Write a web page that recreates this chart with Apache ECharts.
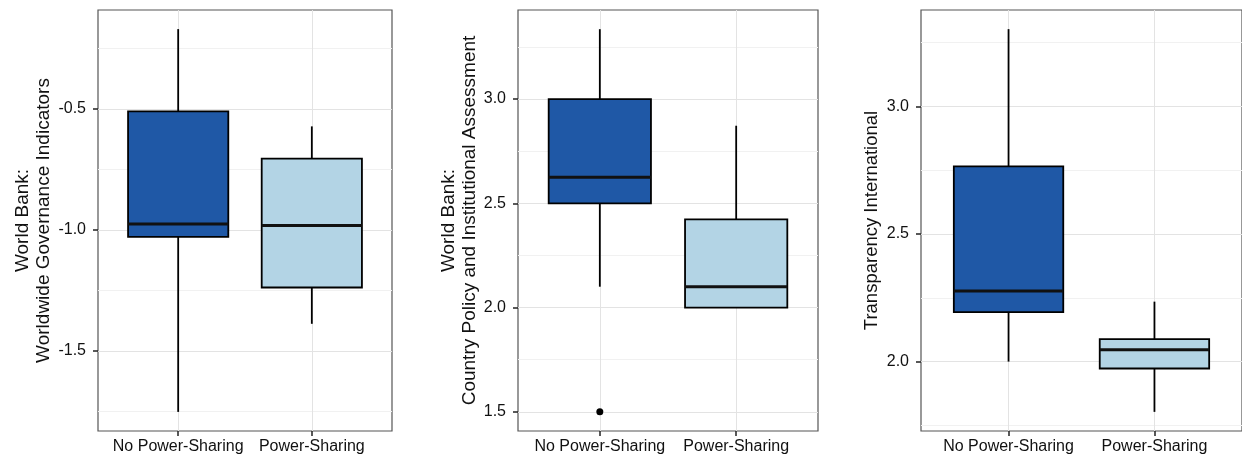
<!DOCTYPE html>
<html>
<head>
<meta charset="utf-8">
<script src="https://cdn.jsdelivr.net/npm/echarts@6/dist/echarts.min.js"></script>
<style>
html,body{margin:0;padding:0;background:#fff;}
#chart{width:1242px;height:459px;}
</style>
</head>
<body>
<div id="chart"></div>
<script>
// ---- data ----
const categories = ['No Power-Sharing', 'Power-Sharing'];
// [lower whisker, Q1, median, Q3, upper whisker] per category
const wgiStats  = [[-1.752, -1.029, -0.975, -0.510, -0.170], [-1.388, -1.238, -0.982, -0.705, -0.572]];
const cpiaStats = [[2.10, 2.50, 2.625, 3.00, 3.335], [2.00, 2.00, 2.10, 2.423, 2.872]];
const tiStats   = [[2.00, 2.194, 2.277, 2.765, 3.303], [1.803, 1.973, 2.046, 2.088, 2.235]];
const cpiaOutliers = [[1, 1.5]]; // [category position, value]
const wgiTicks  = [-1.5, -1.0, -0.5];
const cpiaTicks = [1.5, 2.0, 2.5, 3.0];
const tiTicks   = [2.0, 2.5, 3.0];
const wgiRange  = [-1.831, -0.091];
const cpiaRange = [1.408, 3.427];
const tiRange   = [1.728, 3.378];
const titles = ['World Bank:\nWorldwide Governance Indicators', 'World Bank:\nCountry Policy and Institutional Assessment', 'Transparency International'];

// ---- styling ----
const FILLS = ['#1f58a6', '#b3d4e5'];
const BOX_WIDTH = 0.75;
const FONT = 'Liberation Sans';
const grids = [
  {left: 98, width: 294, top: 10, bottom: 28},
  {left: 518, width: 300, top: 10, bottom: 28},
  {left: 921, width: 324, top: 10, bottom: 28}
];
const nameGaps = [43, 37, 38];
const nameSizes = [19, 19, 18.5];

function renderBox(params, api) {
  const x = api.value(0);
  const lo = api.coord([x, api.value(1)]);
  const q1 = api.coord([x, api.value(2)]);
  const md = api.coord([x, api.value(3)]);
  const q3 = api.coord([x, api.value(4)]);
  const hi = api.coord([x, api.value(5)]);
  const hw = api.size([BOX_WIDTH, 0])[0] / 2;
  const cx = lo[0];
  const lineStyle = {stroke: '#000', lineWidth: 1.8};
  return {
    type: 'group',
    children: [
      {type: 'line', shape: {x1: cx, y1: lo[1], x2: cx, y2: q1[1]}, style: lineStyle},
      {type: 'line', shape: {x1: cx, y1: q3[1], x2: cx, y2: hi[1]}, style: lineStyle},
      {type: 'rect', shape: {x: cx - hw, y: q3[1], width: hw * 2, height: q1[1] - q3[1]},
        style: {fill: FILLS[params.dataIndex], stroke: '#000', lineWidth: 1.8}},
      {type: 'line', shape: {x1: cx - hw, y1: md[1], x2: cx + hw, y2: md[1]},
        style: {stroke: '#111', lineWidth: 3}}
    ]
  };
}

const statsList = [wgiStats, cpiaStats, tiStats];
const tickList = [wgiTicks, cpiaTicks, tiTicks];
const rangeList = [wgiRange, cpiaRange, tiRange];

const option = {
  animation: false,
  backgroundColor: '#fff',
  grid: grids.map(g => Object.assign({show: true, borderColor: '#555', borderWidth: 1.2, backgroundColor: '#fff'}, g)),
  xAxis: grids.map((g, i) => ({
    type: 'value', gridIndex: i, min: 0.4, max: 2.6,
    axisLine: {show: false, onZero: false},
    axisTick: {show: true, customValues: [1, 2], length: 5, lineStyle: {color: '#222', width: 1.5}},
    axisLabel: {customValues: [1, 2], formatter: v => categories[Math.round(v) - 1], margin: 8,
      fontFamily: FONT, fontSize: 16, color: '#111'},
    splitLine: {show: true, lineStyle: {color: '#e3e3e3', width: 1}}
  })),
  yAxis: grids.map((g, i) => ({
    type: 'value', gridIndex: i, min: rangeList[i][0], max: rangeList[i][1], splitNumber: 3,
    name: titles[i], nameLocation: 'middle', nameRotate: 90, nameGap: nameGaps[i],
    nameTextStyle: {fontFamily: FONT, fontSize: nameSizes[i], color: '#111', lineHeight: 21},
    axisLine: {show: false, onZero: false},
    axisTick: {show: true, customValues: tickList[i], length: 5, lineStyle: {color: '#222', width: 1.5}},
    axisLabel: {customValues: tickList[i], formatter: v => v.toFixed(1), margin: 12,
      fontFamily: FONT, fontSize: 16, color: '#111'},
    splitLine: {show: true, lineStyle: {color: '#e3e3e3', width: 1}},
    minorTick: {show: false, splitNumber: 2},
    minorSplitLine: {show: true, lineStyle: {color: '#f1f1f1', width: 1}}
  })),
  series: statsList.map((stats, i) => ({
    type: 'custom', xAxisIndex: i, yAxisIndex: i,
    renderItem: renderBox,
    encode: {x: 0, y: [1, 2, 3, 4, 5]},
    data: stats.map((s, k) => [k + 1].concat(s))
  })).concat([{
    type: 'scatter', xAxisIndex: 1, yAxisIndex: 1,
    symbolSize: 7, itemStyle: {color: '#000', opacity: 1},
    data: cpiaOutliers
  }])
};

const chart = echarts.init(document.getElementById('chart'));
chart.setOption(option);
</script>
</body>
</html>
